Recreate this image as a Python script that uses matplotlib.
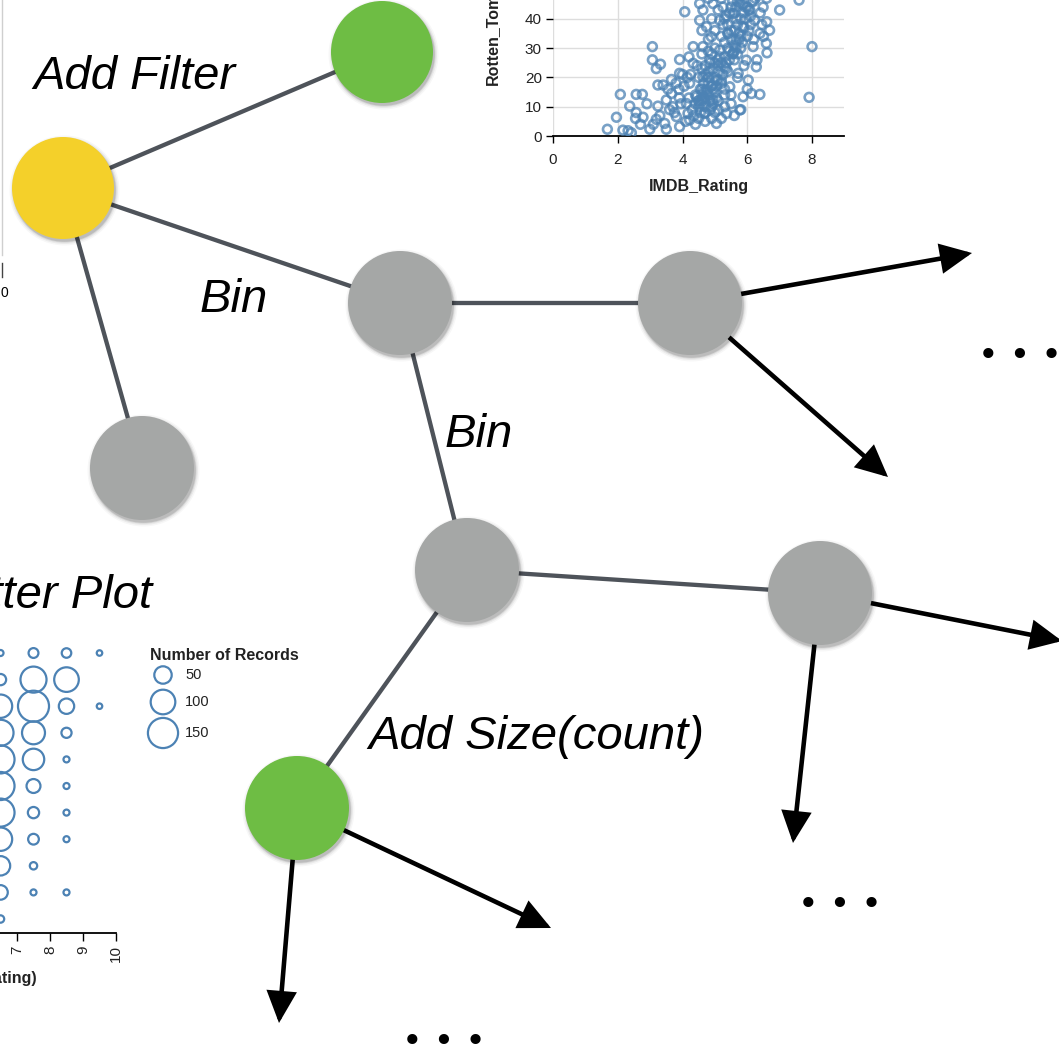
import matplotlib
matplotlib.use("Agg")
import matplotlib.pyplot as plt
from matplotlib.patches import Circle, FancyArrowPatch

W, H = 1059, 1050

# ---------------- data ----------------
# exploration graph
node_kind = ["filter", "added", "bin", "bin", "plain", "bin", "bin", "added"]
edges = [(0, 1), (0, 2), (0, 4), (2, 3), (2, 5), (5, 6), (5, 7)]
arrow_src = [3, 3, 6, 6, 7, 7]
labels = ["Add Filter", "Bin", "Bin", "Add Size(count)"]
cut_label = "Scatter Plot"
more = "• • •"

# top scatter plot (IMDB_Rating vs Rotten_Tomatoes_Rating)
imdb_rating = [1.68, 1.96, 2.08, 2.16, 2.37, 2.32, 2.42, 2.57, 2.76, 2.57, 2.78, 2.55, 2.99,
               3.07, 3.07, 3.19, 3.32, 3.24, 3.19, 3.24, 3.4, 3.5, 3.66, 3.66, 3.45, 3.5,
               3.7, 3.81, 3.91, 3.89, 3.91, 3.91, 4.07, 4.12, 4.22, 4.17, 4.22, 4.33, 4.33,
               4.43, 4.53, 4.53, 4.63, 4.63, 4.63, 4.68, 4.74, 4.84, 4.89, 4.94, 4.94, 5.05,
               5.05, 5.15, 5.15, 5.25, 5.3, 5.36, 5.41, 5.46, 5.56, 5.56, 5.66, 5.72, 5.77,
               5.77, 5.87, 5.87, 5.97, 6.03, 6.08, 6.13, 6.18, 6.23, 6.28, 6.39, 6.39, 6.49,
               6.59, 6.61, 6.69, 7.0, 7.6, 8.0, 7.91,
               4.5, 4.6, 4.7, 4.8, 4.9, 5.0, 4.6, 4.8, 5.0, 5.1, 5.2, 5.3, 5.4, 5.5, 5.6,
               5.7, 5.8, 5.9, 6.0, 5.2, 5.4, 5.6, 5.8, 5.0, 5.2, 5.4, 5.6, 5.1, 5.3, 4.4,
               4.5, 4.7, 4.9, 5.0, 5.3, 5.5, 5.7, 6.2, 6.4, 6.1, 6.0, 5.9, 5.7, 5.5, 5.3,
               4.9, 4.7, 4.5, 4.8, 5.0, 6.3, 6.0, 5.8, 5.6, 4.3, 4.4, 4.2, 5.1, 5.2, 6.5,
               6.6, 6.2, 4.6, 4.8, 4.9, 5.1, 4.6, 4.2, 4.0, 3.9, 4.1, 3.8, 3.6,
               5.0, 5.4, 5.8, 6.3, 4.8, 6.6, 5.2, 4.7, 4.9, 5.1, 5.3, 4.6, 4.8, 5.5, 5.7,
               4.55, 4.65, 4.75, 4.85, 4.95, 5.05, 4.55, 4.7, 4.85, 5.0, 4.6, 4.75, 4.9,
               5.05, 5.2, 4.5, 4.65, 4.8, 4.95, 5.1, 5.25, 5.35, 5.45, 5.55, 5.65, 5.75,
               5.3, 5.45, 5.6, 5.75, 5.9, 5.15, 5.35, 5.5, 5.65, 5.8, 5.95, 6.1, 5.25,
               5.45, 5.65, 5.85, 6.05, 6.25, 5.35, 5.55, 5.75, 5.95, 6.15, 4.4, 4.55,
               4.7, 4.85, 4.35, 4.5, 4.65, 4.8, 4.95, 5.1, 5.4, 5.6, 5.85, 6.05, 6.45,
               4.25, 4.45, 4.05, 4.15, 3.95, 3.75, 3.55, 3.3, 3.1, 2.9, 2.7]
rt_rating = [2.3, 6.4, 14.2, 2.0, 10.2, 1.8, 1.1, 14.2, 14.2, 8.0, 6.4, 6.0, 2.3,
             30.5, 26.0, 23.0, 24.5, 10.2, 5.7, 17.4, 17.4, 12.3, 19.3, 14.5, 4.3, 2.3,
             10.0, 6.6, 3.2, 15.9, 21.4, 26.1, 42.4, 11.1, 18.0, 7.7, 5.5, 24.8, 30.5,
             13.4, 45.2, 39.5, 43.0, 30.5, 20.2, 7.7, 37.3, 26.0, 33.9, 45.2, 12.3, 4.3,
             19.1, 39.5, 29.3, 44.0, 23.6, 7.7, 35.0, 16.8, 41.8, 28.2, 32.7, 21.4, 45.2,
             8.9, 37.3, 13.4, 25.9, 19.1, 43.0, 14.5, 30.5, 39.5, 23.6, 14.2, 35.0, 44.0,
             31.6, 28.4, 36.1, 43.0, 46.4, 30.5, 13.2,
             10, 12, 8, 14, 10, 15, 16, 18, 20, 22, 25, 27, 30, 33, 36,
             38, 40, 42, 44, 18, 22, 26, 30, 30, 34, 38, 42, 12, 14, 14,
             20, 24, 28, 36, 40, 44, 46, 46, 42, 38, 34, 24, 20, 14, 10,
             6, 5, 6, 22, 25, 26, 16, 9, 7, 9, 4, 13, 9, 6, 34,
             39, 33, 28, 33, 40, 43, 36, 27, 21, 13, 5, 18, 9,
             48, 49, 48, 48, 47, 47, 47, 13, 17, 19, 16, 23, 29, 11, 28,
             11, 13, 15, 12, 11, 13, 8, 10, 9, 8, 14, 16, 17,
             17, 19, 12, 18, 20, 16, 24, 21, 23, 26, 28, 30, 33,
             32, 29, 31, 35, 37, 27, 25, 36, 40, 34, 40, 41, 38,
             42, 44, 45, 43, 47, 41, 46, 47, 44, 46, 11, 16,
             21, 25, 7, 12, 15, 20, 23, 26, 35, 29, 32, 36, 38,
             21, 24, 17, 20, 11, 8, 16, 7, 4, 11, 4]

# bottom-left binned bubble plot
bubble_imdb = [6.5] * 11 + [7.5] * 10 + [8.5] * 9 + [9.5] * 2
bubble_rt = ([100, 90, 80, 70, 60, 50, 40, 30, 20, 10, 0]
             + [100, 90, 80, 70, 60, 50, 40, 30, 20, 10]
             + [100, 90, 80, 70, 60, 50, 40, 30, 10]
             + [100, 80])
bubble_count = ([6, 21, 90, 112, 130, 130, 130, 90, 62, 35, 9]
                + [16, 112, 159, 87, 76, 32, 21, 19, 9, 6]
                + [15, 100, 39, 17, 6, 6, 6, 6, 6]
                + [5, 5])
legend_counts = [50, 100, 150]

# ---------------- layout / style ----------------
node_x = [63, 382, 400, 690, 142, 467, 820, 297]
node_y = [188, 52, 303, 303, 468, 570, 593, 808]
node_r = [51, 51, 52, 52, 52, 52, 52, 52]
kind_color = {"filter": "#F4D02A", "added": "#6EBD44", "bin": "#A5A7A6", "plain": "#A5A7A6"}
arrow_tip = [(972, 253), (888, 477), (1062, 641), (793, 843), (551, 928), (279, 1023)]
label_pos = [(33, 89), (200, 312), (445, 447), (368, 749)]
more_pos = [(1020, 356), (840, 905), (444, 1042)]
EDGE = "#4E535A"
BLUE = "#4C82B4"
SANS = ["Liberation Sans", "DejaVu Sans"]

fig = plt.figure(figsize=(W / 100, H / 100), dpi=100)
ax = fig.add_axes([0, 0, 1, 1])
ax.set_xlim(0, W)
ax.set_ylim(H, 0)
ax.axis("off")

# edges
for a, b in edges:
    ax.plot([node_x[a], node_x[b]], [node_y[a], node_y[b]], color=EDGE, lw=3.1,
            solid_capstyle="butt", zorder=1)

# arrows
for src, tip in zip(arrow_src, arrow_tip):
    ar = FancyArrowPatch((node_x[src], node_y[src]), tip,
                         arrowstyle="-|>,head_length=0.42,head_width=0.2",
                         mutation_scale=42, lw=3.3, color="black",
                         shrinkA=0, shrinkB=0, joinstyle="miter", zorder=1)
    ax.add_patch(ar)

# nodes with soft shadow
for x, y, r, k in zip(node_x, node_y, node_r, node_kind):
    for extra, alpha in [(4.0, 0.03), (2.5, 0.05), (1.2, 0.08), (0.3, 0.12)]:
        ax.add_patch(Circle((x + 1.5, y + 2.5), r + extra, color="black", alpha=alpha,
                            lw=0, zorder=2))
    ax.add_patch(Circle((x, y), r, color=kind_color[k], lw=0, zorder=3))

# italic labels
for t, (x, y) in zip(labels, label_pos):
    ax.text(x, y, t, fontsize=34, style="italic", family=SANS, ha="left", va="baseline",
            zorder=4)
ax.text(152, 608, cut_label, fontsize=34, style="italic", family=SANS, ha="right",
        va="baseline", zorder=4)

for (x, y) in more_pos:
    ax.text(x, y, more, fontsize=25, family="DejaVu Sans", ha="center", va="center",
            zorder=4)

# fragment of another chart at the left edge
ax.plot([1.5, 1.5], [0, 255], color="#cfcfcf", lw=1)
ax.plot([1.5, 1.5], [263, 277], color="#444444", lw=1)
ax.text(8.5, 293, "0", fontsize=10, family=SANS, ha="right", va="center")

# bubble legend
ax.text(150, 655, "Number of Records", fontsize=11.5, fontweight="bold", family=SANS,
        ha="left", va="center", color="#222222")
for c, yy in zip(legend_counts, [675, 702, 733]):
    ax.scatter([163], [yy], s=3.14 * c, facecolors="none", edgecolors=BLUE, linewidths=1.6)
    ax.text(185, yy, str(c), fontsize=10.5, family=SANS, ha="left", va="center",
            color="#222222")

# ---------------- top scatter inset ----------------
px_x = 32.375
px_y = 2.93
sax = fig.add_axes([553 / W, (H - 136) / H, 9 * px_x / W, 50 * px_y / H])
sax.set_facecolor("none")
sax.set_xlim(0, 9)
sax.set_ylim(0, 50)
sax.scatter(imdb_rating, rt_rating, s=40, facecolors="none", edgecolors=BLUE,
            linewidths=1.9, alpha=0.75, zorder=3)
sax.set_xticks([0, 2, 4, 6, 8])
sax.set_yticks([0, 10, 20, 30, 40])
sax.grid(True, color="#dddddd", lw=1)
sax.set_axisbelow(True)
for s in ["top", "right", "left"]:
    sax.spines[s].set_visible(False)
sax.spines["bottom"].set_color("black")
sax.spines["bottom"].set_linewidth(1.3)
sax.tick_params(axis="both", length=5, width=1, color="black", labelsize=11,
                labelcolor="#222222")
sax.tick_params(axis="x", pad=7)
sax.tick_params(axis="y", pad=3)
for lab in sax.get_xticklabels() + sax.get_yticklabels():
    lab.set_family(SANS)
sax.set_xlabel("IMDB_Rating", fontsize=11.5, fontweight="bold", family=SANS,
               color="#222222", labelpad=9)
fig.text(493 / W, (H - 85) / H, "Rotten_Tomatoes_Rating", rotation=90, fontsize=11.5,
         fontweight="bold", family=SANS, ha="center", va="bottom", color="#222222")

# ---------------- bubble inset ----------------
bx = 33.0
by = 2.66
bax = fig.add_axes([-16 / W, (H - 933) / H, 4 * bx / W, (105 + 5.26) * by / H])
bax.set_facecolor("none")
bax.set_xlim(6, 10)
bax.set_ylim(-5.26, 105)
bax.scatter(bubble_imdb, bubble_rt, s=[3.14 * c for c in bubble_count],
            facecolors="none", edgecolors=BLUE, linewidths=1.6, zorder=3, clip_on=False)
bax.set_xticks([7, 8, 9, 10])
bax.set_yticks([])
for s in ["top", "right", "left"]:
    bax.spines[s].set_visible(False)
bax.spines["bottom"].set_linewidth(1.3)
bax.tick_params(axis="x", length=6, width=1, labelsize=11, labelrotation=90,
                labelcolor="#222222", pad=3)
for lab in bax.get_xticklabels():
    lab.set_family(SANS)
ax.text(37, 978, "Bin(IMDB_Rating)", fontsize=11.5, fontweight="bold", family=SANS,
        ha="right", va="center", color="#222222")

fig.savefig("out.png", dpi=100)
